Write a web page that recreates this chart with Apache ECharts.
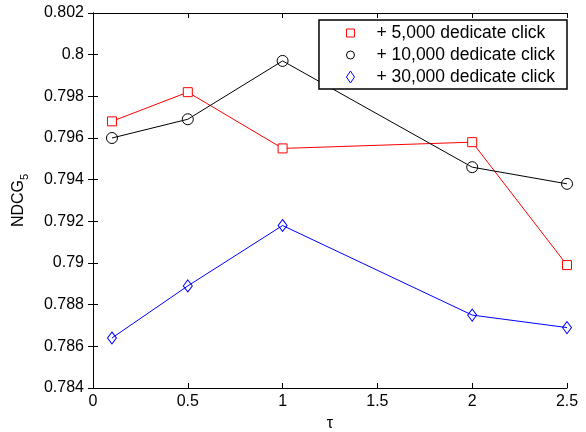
<!DOCTYPE html>
<html>
<head>
<meta charset="utf-8">
<script src="https://cdn.jsdelivr.net/npm/echarts@6/dist/echarts.min.js"></script>
<style>
html, body { margin: 0; padding: 0; background: #fff; }
#chart { width: 586px; height: 432px; }
</style>
</head>
<body>
<div id="chart"></div>
<script>
const taus = [0.1, 0.5, 1, 2, 2.5]
const click5k = [0.7968, 0.7982, 0.7955, 0.7958, 0.7899]
const click10k = [0.7960, 0.7969, 0.7997, 0.7946, 0.7938]
const click30k = [0.7864, 0.7889, 0.7918, 0.7875, 0.7869]
const names = ['+ 5,000 dedicate click', '+ 10,000 dedicate click', '+ 30,000 dedicate click']

const font = 'Liberation Sans, Arial, sans-serif'
const pair = (ys) => taus.map((x, i) => [x, ys[i]])

const axisLine = { show: true, lineStyle: { color: '#000', width: 1 } }
const tick = { show: true, inside: true, length: 5, lineStyle: { color: '#000' } }
const label = { color: '#000', fontSize: 16, fontFamily: font }

const xBase = { type: 'value', min: 0, max: 2.5, interval: 0.5, axisLine, axisTick: tick, splitLine: { show: false } }
const yBase = { type: 'value', min: 0.784, max: 0.802, interval: 0.002, axisLine, axisTick: tick, splitLine: { show: false } }

const empty = 'rgba(0,0,0,0)'
// legend markers only, no line through them
const legendIcons = [
	{ icon: 'path://M0,0H8V8H0Z', color: '#ff0000' },
	{ icon: 'circle', color: '#000' },
	{ icon: 'path://M4,0L8,6L4,12L0,6Z', color: '#0000ff' }
]

const chart = echarts.init(document.getElementById('chart'))
chart.setOption({
	backgroundColor: '#fff',
	animation: false,
	grid: { left: 93, right: 19, top: 13, bottom: 44, containLabel: false, outerBoundsMode: 'none' },
	xAxis: [
		{
			...xBase, position: 'bottom',
			axisLabel: { ...label, margin: 6, formatter: (v) => String(+v.toFixed(1)) },
			name: 'τ', nameLocation: 'middle', nameGap: 28,
			nameTextStyle: { color: '#000', fontSize: 16, fontFamily: font }
		},
		{ ...xBase, position: 'top', axisLabel: { show: false } }
	],
	yAxis: [
		{
			...yBase, position: 'left',
			axisLabel: { ...label, margin: 9, formatter: (v) => String(+v.toFixed(3)) },
			name: '{m|NDCG}{s|5}', nameLocation: 'middle', nameGap: 63, nameRotate: 90,
			nameTextStyle: {
				rich: {
					m: { color: '#000', fontSize: 16, fontFamily: font },
					s: { color: '#000', fontSize: 11, fontFamily: font, padding: [11, 0, 0, 0] }
				}
			}
		},
		{ ...yBase, position: 'right', axisLabel: { show: false } }
	],
	legend: {
		right: 19, top: 20, orient: 'vertical', itemGap: 4,
		itemWidth: 8, itemHeight: 12,
		padding: [4, 12, 3, 27],
		borderColor: '#000', borderWidth: 1.5, backgroundColor: '#fff',
		textStyle: { color: '#000', fontSize: 17.5, fontFamily: font, lineHeight: 17.5, padding: [0, 0, 0, 17] },
		data: names.map((n, i) => ({
			name: n,
			icon: legendIcons[i].icon,
			itemStyle: { color: empty, borderColor: legendIcons[i].color, borderWidth: 1 }
		}))
	},
	series: [
		{
			name: names[0], type: 'line', data: pair(click5k),
			symbol: 'rect', symbolSize: 9,
			lineStyle: { color: '#ff0000', width: 1 },
			itemStyle: { color: '#fff', borderColor: '#ff0000', borderWidth: 1 }
		},
		{
			name: names[1], type: 'line', data: pair(click10k),
			symbol: 'circle', symbolSize: 11,
			lineStyle: { color: '#000', width: 1 },
			itemStyle: { color: empty, borderColor: '#000', borderWidth: 1 }
		},
		{
			name: names[2], type: 'line', data: pair(click30k),
			symbol: 'diamond', symbolSize: [9, 12],
			lineStyle: { color: '#0000ff', width: 1 },
			itemStyle: { color: empty, borderColor: '#0000ff', borderWidth: 1 }
		}
	]
})
</script>
</body>
</html>
